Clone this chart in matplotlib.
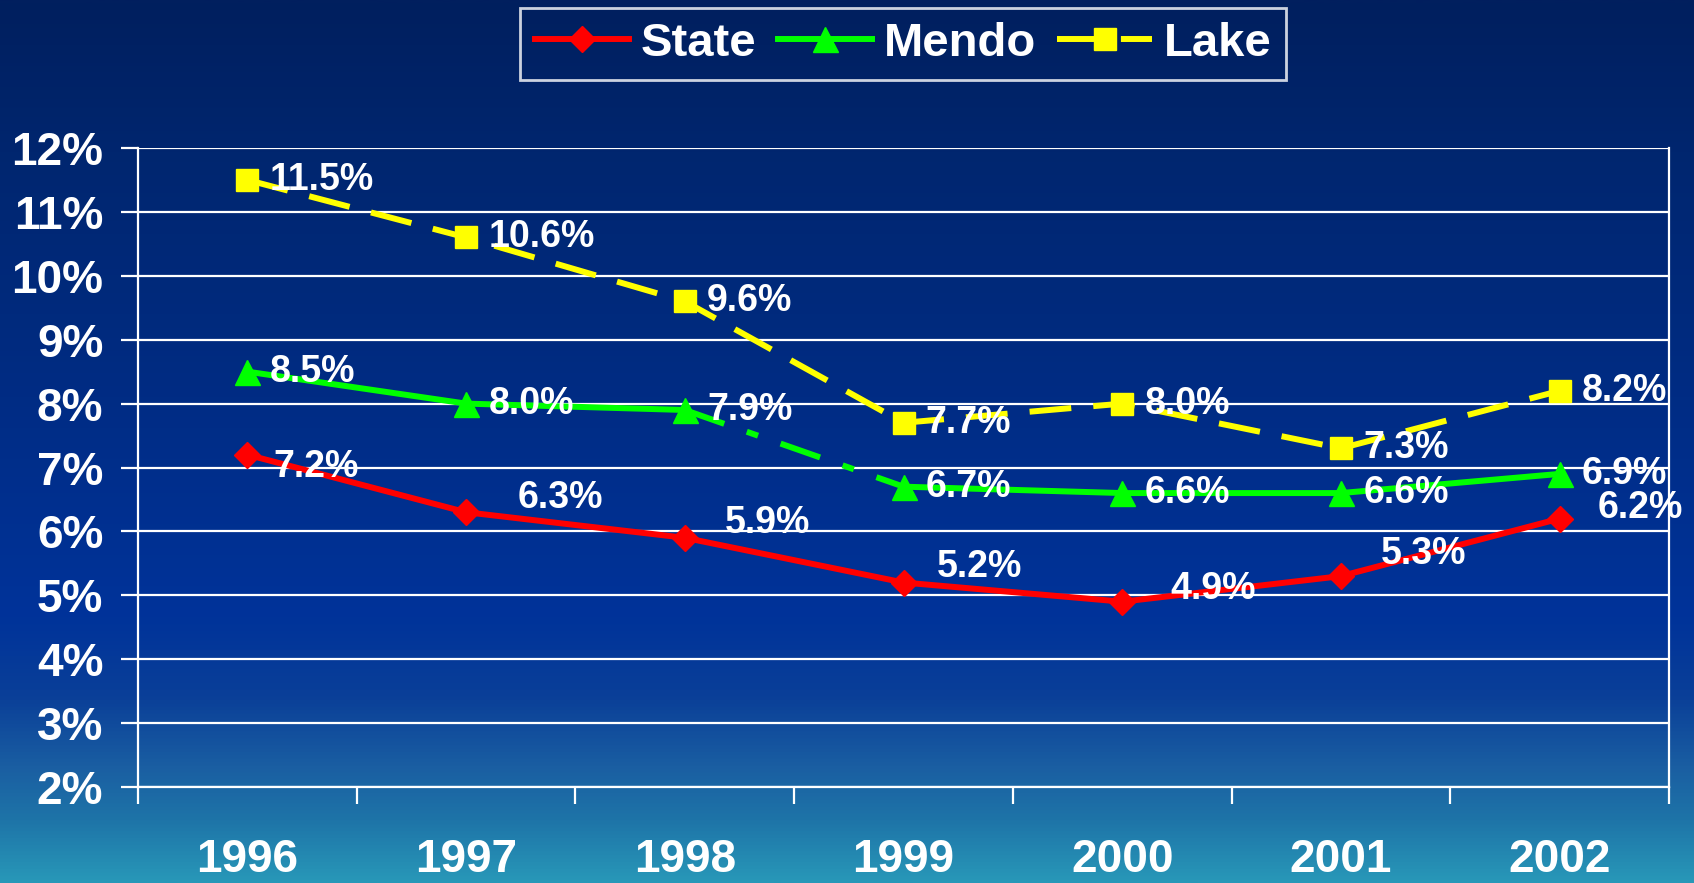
import matplotlib
matplotlib.use("Agg")
import matplotlib.pyplot as plt
import numpy as np
from matplotlib.colors import LinearSegmentedColormap

years = ["1996", "1997", "1998", "1999", "2000", "2001", "2002"]
state = [7.2, 6.3, 5.9, 5.2, 4.9, 5.3, 6.2]
mendo = [8.5, 8.0, 7.9, 6.7, 6.6, 6.6, 6.9]
lake = [11.5, 10.6, 9.6, 7.7, 8.0, 7.3, 8.2]
y_ticks = [2, 3, 4, 5, 6, 7, 8, 9, 10, 11, 12]

# label offsets in points (dx, dy)
state_off = [(19, -9), (37, 10), (29, 11), (24, 11), (35, 9), (29, 16), (27, 8)]
series_off = (16, 0)

plt.rcParams['font.family'] = ['Liberation Sans', 'DejaVu Sans']
plt.rcParams['font.weight'] = 'bold'

W, H = 1694, 883
fig = plt.figure(figsize=(W / 100, H / 100), dpi=100)

# background gradient
bg = fig.add_axes([0, 0, 1, 1], zorder=-10)
stops = [(0.0, "#011f5e"), (0.17, "#00266f"), (0.45, "#002c84"), (0.70, "#00339a"),
         (0.79, "#0a3f98"), (0.87, "#1a5ea2"), (0.93, "#1e74a8"), (1.0, "#2898b8")]
cmap = LinearSegmentedColormap.from_list("bg", stops)
grad = np.linspace(0, 1, 512).reshape(-1, 1)
bg.imshow(grad, aspect="auto", cmap=cmap, extent=[0, 1, 0, 1], origin="upper")
bg.set_axis_off()

ax = fig.add_axes([138 / W, 1 - 787 / H, (1669 - 138) / W, (787 - 148) / H])
ax.patch.set_alpha(0)
x = np.arange(len(years))

lw = 4.3
# State
ax.plot(x, state, color="#ff0000", lw=lw, marker="D", ms=13, mec="#ff0000",
        label="State", zorder=5)
# Mendo: solid except dashed 1998-1999 segment
ax.plot(x[:3], mendo[:3], color="#00ff00", lw=lw, marker="^", ms=18, mec="#00ff00",
        label="Mendo", zorder=5)
ax.plot(x[3:], mendo[3:], color="#00ff00", lw=lw, marker="^", ms=18, mec="#00ff00",
        zorder=5)
ax.plot(x[2:4], mendo[2:4], color="#00ff00", lw=lw, dashes=(7, 4, 2, 4), zorder=4)
# Lake
ax.plot(x, lake, color="#ffff00", lw=lw, dashes=(7, 3.7), marker="s", ms=16.5,
        mec="#ffff00", label="Lake", zorder=5)

lab_kw = dict(color="white", fontsize=27, fontweight="bold", va="center", ha="left",
              textcoords="offset points", zorder=6)
for i, v in enumerate(lake):
    ax.annotate(f"{v:.1f}%", (x[i], v), xytext=series_off, **lab_kw)
for i, v in enumerate(mendo):
    ax.annotate(f"{v:.1f}%", (x[i], v), xytext=series_off, **lab_kw)
for i, v in enumerate(state):
    ax.annotate(f"{v:.1f}%", (x[i], v), xytext=state_off[i], **lab_kw)

ax.set_xlim(-0.5, len(years) - 0.5)
ax.set_ylim(2, 12)
ax.set_yticks(y_ticks)
ax.set_yticklabels([f"{t}%" for t in y_ticks])
ax.yaxis.grid(True, color="white", lw=1.6)
ax.set_axisbelow(True)

ax.set_xticks(x)
ax.set_xticklabels(years)
ax.set_xticks(np.arange(len(years) + 1) - 0.5, minor=True)
ax.tick_params(axis="x", which="major", length=0, pad=37, labelsize=33,
               labelcolor="white")
ax.tick_params(axis="x", which="minor", length=12, width=1.6, color="white",
               direction="out")
ax.tick_params(axis="y", which="major", length=12, width=1.6, color="white",
               direction="out", pad=13, labelsize=33, labelcolor="white")
for lbl in ax.get_xticklabels() + ax.get_yticklabels():
    lbl.set_fontweight("bold")

for s in ["left", "bottom", "right"]:
    ax.spines[s].set_color("white")
    ax.spines[s].set_linewidth(1.6)
ax.spines["top"].set_visible(False)

leg = fig.legend(loc="center", bbox_to_anchor=(903 / W, 1 - 44 / H), ncol=3,
                 frameon=True, fancybox=False, edgecolor="white", facecolor="none",
                 fontsize=34, handlelength=2.0, handletextpad=0.25,
                 columnspacing=0.45, borderpad=0.3, borderaxespad=0)
leg.get_frame().set_linewidth(2)
for t in leg.get_texts():
    t.set_color("white")
    t.set_fontweight("bold")

fig.savefig("out.png", dpi=100)
